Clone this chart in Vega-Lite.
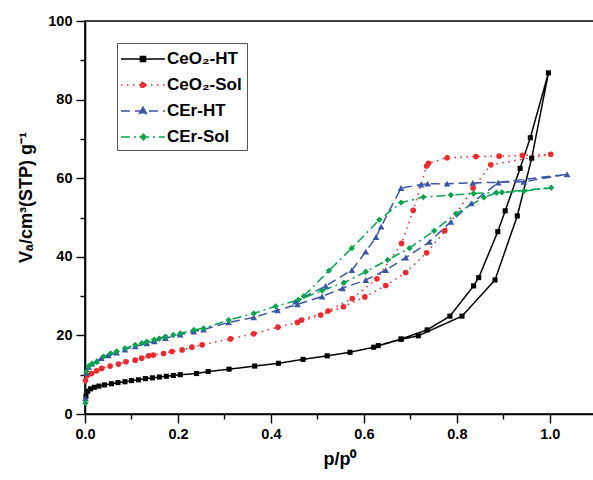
{
  "$schema": "https://vega.github.io/schema/vega-lite/v6.json",
  "width": 509,
  "height": 393,
  "autosize": "none",
  "padding": {"left": 85, "top": 21, "right": 0, "bottom": 66},
  "background": "white",
  "config": {
    "view": {"stroke": "black", "strokeWidth": 1.6},
    "axis": {
      "domainColor": "black", "domainWidth": 1.6, "tickColor": "black", "tickWidth": 1.4,
      "labelFont": "Liberation Sans", "labelFontWeight": "bold", "labelFontSize": 14.5, "labelColor": "black",
      "titleFont": "Liberation Sans", "titleFontWeight": "bold", "titleFontSize": 18, "titleColor": "black",
      "grid": false, "labelFlush": false
    },
    "legend": {"title": null, "orient": "none", "legendX": 32, "legendY": 22, "symbolSize": 400, "symbolStrokeWidth": 1.5, "symbolOpacity": 1,
      "symbolOffset": 10,
      "labelFont": "Liberation Sans", "labelFontWeight": "bold", "labelFontSize": 17, "labelColor": "black",
      "labelOffset": 13, "rowPadding": 7, "padding": 5, "strokeColor": "#555", "fillColor": "white"}
  },
  "data": {"values": [
    {"s":"CeO₂-HT","i":1,"p":0.002,"v":4.5},{"s":"CeO₂-HT","i":2,"p":0.006,"v":5.8},{"s":"CeO₂-HT","i":3,"p":0.012,"v":6.4},{"s":"CeO₂-HT","i":4,"p":0.02,"v":6.8},{"s":"CeO₂-HT","i":5,"p":0.03,"v":7.1},{"s":"CeO₂-HT","i":6,"p":0.042,"v":7.4},{"s":"CeO₂-HT","i":7,"p":0.057,"v":7.7},{"s":"CeO₂-HT","i":8,"p":0.071,"v":8.0},{"s":"CeO₂-HT","i":9,"p":0.086,"v":8.2},{"s":"CeO₂-HT","i":10,"p":0.1,"v":8.5},{"s":"CeO₂-HT","i":11,"p":0.115,"v":8.7},{"s":"CeO₂-HT","i":12,"p":0.13,"v":9.0},{"s":"CeO₂-HT","i":13,"p":0.145,"v":9.2},{"s":"CeO₂-HT","i":14,"p":0.16,"v":9.4},{"s":"CeO₂-HT","i":15,"p":0.175,"v":9.6},{"s":"CeO₂-HT","i":16,"p":0.19,"v":9.8},{"s":"CeO₂-HT","i":17,"p":0.205,"v":10.0},{"s":"CeO₂-HT","i":18,"p":0.24,"v":10.3},{"s":"CeO₂-HT","i":19,"p":0.265,"v":10.8},{"s":"CeO₂-HT","i":20,"p":0.31,"v":11.4},{"s":"CeO₂-HT","i":21,"p":0.365,"v":12.2},{"s":"CeO₂-HT","i":22,"p":0.416,"v":12.9},{"s":"CeO₂-HT","i":23,"p":0.469,"v":13.9},{"s":"CeO₂-HT","i":24,"p":0.521,"v":14.8},{"s":"CeO₂-HT","i":25,"p":0.57,"v":15.7},{"s":"CeO₂-HT","i":26,"p":0.621,"v":17.0},{"s":"CeO₂-HT","i":27,"p":0.68,"v":19.0},{"s":"CeO₂-HT","i":28,"p":0.717,"v":19.9},{"s":"CeO₂-HT","i":29,"p":0.811,"v":24.9},{"s":"CeO₂-HT","i":30,"p":0.882,"v":34.1},{"s":"CeO₂-HT","i":31,"p":0.93,"v":50.4},{"s":"CeO₂-HT","i":32,"p":0.961,"v":65.1},{"s":"CeO₂-HT","i":33,"p":0.997,"v":86.8},{"s":"CeO₂-HT","i":34,"p":0.958,"v":70.3},{"s":"CeO₂-HT","i":35,"p":0.936,"v":62.5},{"s":"CeO₂-HT","i":36,"p":0.904,"v":51.7},{"s":"CeO₂-HT","i":37,"p":0.888,"v":46.4},{"s":"CeO₂-HT","i":38,"p":0.847,"v":34.7},{"s":"CeO₂-HT","i":39,"p":0.836,"v":32.6},{"s":"CeO₂-HT","i":40,"p":0.785,"v":24.9},{"s":"CeO₂-HT","i":41,"p":0.736,"v":21.4},{"s":"CeO₂-HT","i":42,"p":0.68,"v":19.1},{"s":"CeO₂-HT","i":43,"p":0.631,"v":17.4},
    {"s":"CeO₂-Sol","i":1,"p":0.001,"v":8.5},{"s":"CeO₂-Sol","i":2,"p":0.005,"v":9.8},{"s":"CeO₂-Sol","i":3,"p":0.014,"v":10.3},{"s":"CeO₂-Sol","i":4,"p":0.025,"v":11.0},{"s":"CeO₂-Sol","i":5,"p":0.036,"v":11.6},{"s":"CeO₂-Sol","i":6,"p":0.054,"v":12.2},{"s":"CeO₂-Sol","i":7,"p":0.072,"v":12.7},{"s":"CeO₂-Sol","i":8,"p":0.088,"v":13.3},{"s":"CeO₂-Sol","i":9,"p":0.108,"v":13.7},{"s":"CeO₂-Sol","i":10,"p":0.122,"v":14.2},{"s":"CeO₂-Sol","i":11,"p":0.137,"v":14.8},{"s":"CeO₂-Sol","i":12,"p":0.147,"v":15.0},{"s":"CeO₂-Sol","i":13,"p":0.169,"v":15.4},{"s":"CeO₂-Sol","i":14,"p":0.187,"v":15.9},{"s":"CeO₂-Sol","i":15,"p":0.209,"v":16.3},{"s":"CeO₂-Sol","i":16,"p":0.23,"v":17.0},{"s":"CeO₂-Sol","i":17,"p":0.252,"v":17.6},{"s":"CeO₂-Sol","i":18,"p":0.313,"v":19.1},{"s":"CeO₂-Sol","i":19,"p":0.363,"v":20.4},{"s":"CeO₂-Sol","i":20,"p":0.415,"v":22.1},{"s":"CeO₂-Sol","i":21,"p":0.457,"v":23.3},{"s":"CeO₂-Sol","i":22,"p":0.507,"v":25.2},{"s":"CeO₂-Sol","i":23,"p":0.556,"v":27.3},{"s":"CeO₂-Sol","i":24,"p":0.602,"v":29.8},{"s":"CeO₂-Sol","i":25,"p":0.647,"v":32.7},{"s":"CeO₂-Sol","i":26,"p":0.69,"v":36.0},{"s":"CeO₂-Sol","i":27,"p":0.735,"v":41.0},{"s":"CeO₂-Sol","i":28,"p":0.774,"v":46.6},{"s":"CeO₂-Sol","i":29,"p":0.835,"v":57.5},{"s":"CeO₂-Sol","i":30,"p":0.873,"v":63.4},{"s":"CeO₂-Sol","i":31,"p":1.002,"v":66.1},{"s":"CeO₂-Sol","i":32,"p":0.941,"v":65.8},{"s":"CeO₂-Sol","i":33,"p":0.891,"v":65.6},{"s":"CeO₂-Sol","i":34,"p":0.841,"v":65.5},{"s":"CeO₂-Sol","i":35,"p":0.779,"v":65.2},{"s":"CeO₂-Sol","i":36,"p":0.739,"v":63.8},{"s":"CeO₂-Sol","i":37,"p":0.735,"v":63.1},{"s":"CeO₂-Sol","i":38,"p":0.706,"v":51.8},{"s":"CeO₂-Sol","i":39,"p":0.681,"v":43.4},{"s":"CeO₂-Sol","i":40,"p":0.628,"v":34.4},{"s":"CeO₂-Sol","i":41,"p":0.575,"v":29.4},{"s":"CeO₂-Sol","i":42,"p":0.523,"v":26.2},{"s":"CeO₂-Sol","i":43,"p":0.466,"v":23.9},
    {"s":"CEr-HT","i":1,"p":0.001,"v":4.0},{"s":"CEr-HT","i":2,"p":0.003,"v":10.5},{"s":"CEr-HT","i":3,"p":0.008,"v":12.0},{"s":"CEr-HT","i":4,"p":0.015,"v":12.8},{"s":"CEr-HT","i":5,"p":0.025,"v":13.5},{"s":"CEr-HT","i":6,"p":0.035,"v":14.2},{"s":"CEr-HT","i":7,"p":0.05,"v":14.9},{"s":"CEr-HT","i":8,"p":0.068,"v":15.6},{"s":"CEr-HT","i":9,"p":0.086,"v":16.4},{"s":"CEr-HT","i":10,"p":0.108,"v":17.2},{"s":"CEr-HT","i":11,"p":0.133,"v":18.0},{"s":"CEr-HT","i":12,"p":0.149,"v":18.5},{"s":"CEr-HT","i":13,"p":0.173,"v":19.3},{"s":"CEr-HT","i":14,"p":0.205,"v":20.2},{"s":"CEr-HT","i":15,"p":0.234,"v":21.0},{"s":"CEr-HT","i":16,"p":0.255,"v":21.5},{"s":"CEr-HT","i":17,"p":0.309,"v":23.3},{"s":"CEr-HT","i":18,"p":0.363,"v":24.6},{"s":"CEr-HT","i":19,"p":0.414,"v":26.4},{"s":"CEr-HT","i":20,"p":0.457,"v":27.9},{"s":"CEr-HT","i":21,"p":0.51,"v":29.9},{"s":"CEr-HT","i":22,"p":0.554,"v":32.0},{"s":"CEr-HT","i":23,"p":0.604,"v":34.1},{"s":"CEr-HT","i":24,"p":0.647,"v":36.6},{"s":"CEr-HT","i":25,"p":0.69,"v":39.8},{"s":"CEr-HT","i":26,"p":0.741,"v":43.8},{"s":"CEr-HT","i":27,"p":0.787,"v":48.9},{"s":"CEr-HT","i":28,"p":0.831,"v":53.6},{"s":"CEr-HT","i":29,"p":0.889,"v":58.9},{"s":"CEr-HT","i":30,"p":1.037,"v":61.0},{"s":"CEr-HT","i":31,"p":0.944,"v":59.1},{"s":"CEr-HT","i":32,"p":0.834,"v":58.8},{"s":"CEr-HT","i":33,"p":0.779,"v":58.6},{"s":"CEr-HT","i":34,"p":0.737,"v":58.6},{"s":"CEr-HT","i":35,"p":0.723,"v":58.4},{"s":"CEr-HT","i":36,"p":0.68,"v":57.5},{"s":"CEr-HT","i":37,"p":0.637,"v":47.7},{"s":"CEr-HT","i":38,"p":0.626,"v":45.0},{"s":"CEr-HT","i":39,"p":0.604,"v":41.3},{"s":"CEr-HT","i":40,"p":0.574,"v":36.6},{"s":"CEr-HT","i":41,"p":0.518,"v":32.6},{"s":"CEr-HT","i":42,"p":0.453,"v":28.6},
    {"s":"CEr-Sol","i":1,"p":0.001,"v":2.8},{"s":"CEr-Sol","i":2,"p":0.003,"v":10.8},{"s":"CEr-Sol","i":3,"p":0.008,"v":12.2},{"s":"CEr-Sol","i":4,"p":0.015,"v":12.8},{"s":"CEr-Sol","i":5,"p":0.025,"v":13.2},{"s":"CEr-Sol","i":6,"p":0.04,"v":14.6},{"s":"CEr-Sol","i":7,"p":0.055,"v":15.4},{"s":"CEr-Sol","i":8,"p":0.068,"v":15.9},{"s":"CEr-Sol","i":9,"p":0.086,"v":16.7},{"s":"CEr-Sol","i":10,"p":0.108,"v":17.6},{"s":"CEr-Sol","i":11,"p":0.122,"v":18.0},{"s":"CEr-Sol","i":12,"p":0.133,"v":18.4},{"s":"CEr-Sol","i":13,"p":0.149,"v":18.9},{"s":"CEr-Sol","i":14,"p":0.16,"v":19.2},{"s":"CEr-Sol","i":15,"p":0.173,"v":19.7},{"s":"CEr-Sol","i":16,"p":0.19,"v":20.1},{"s":"CEr-Sol","i":17,"p":0.205,"v":20.5},{"s":"CEr-Sol","i":18,"p":0.234,"v":21.4},{"s":"CEr-Sol","i":19,"p":0.255,"v":21.8},{"s":"CEr-Sol","i":20,"p":0.309,"v":23.9},{"s":"CEr-Sol","i":21,"p":0.363,"v":25.6},{"s":"CEr-Sol","i":22,"p":0.41,"v":27.4},{"s":"CEr-Sol","i":23,"p":0.459,"v":29.0},{"s":"CEr-Sol","i":24,"p":0.51,"v":31.4},{"s":"CEr-Sol","i":25,"p":0.557,"v":33.4},{"s":"CEr-Sol","i":26,"p":0.604,"v":36.2},{"s":"CEr-Sol","i":27,"p":0.651,"v":39.2},{"s":"CEr-Sol","i":28,"p":0.698,"v":42.2},{"s":"CEr-Sol","i":29,"p":0.751,"v":46.6},{"s":"CEr-Sol","i":30,"p":0.798,"v":51.0},{"s":"CEr-Sol","i":31,"p":0.858,"v":55.1},{"s":"CEr-Sol","i":32,"p":0.885,"v":56.3},{"s":"CEr-Sol","i":33,"p":0.944,"v":56.7},{"s":"CEr-Sol","i":34,"p":1.003,"v":57.6},{"s":"CEr-Sol","i":35,"p":0.897,"v":56.4},{"s":"CEr-Sol","i":36,"p":0.836,"v":56.1},{"s":"CEr-Sol","i":37,"p":0.787,"v":55.7},{"s":"CEr-Sol","i":38,"p":0.728,"v":55.2},{"s":"CEr-Sol","i":39,"p":0.68,"v":53.8},{"s":"CEr-Sol","i":40,"p":0.633,"v":49.4},{"s":"CEr-Sol","i":41,"p":0.574,"v":42.2},{"s":"CEr-Sol","i":42,"p":0.525,"v":36.5},{"s":"CEr-Sol","i":43,"p":0.471,"v":30.0}
  ]},
  "encoding": {
    "x": {"field": "p", "type": "quantitative",
      "scale": {"domain": [0, 1.095], "nice": false, "zero": false},
      "axis": {"title": "p/p⁰", "values": [0,0.1,0.2,0.3,0.4,0.5,0.6,0.7,0.8,0.9,1.0],
        "labelExpr": "round(datum.value*10) % 2 == 0 ? format(datum.value, '.1f') : ''",
        "tickSize": {"condition": {"test": "round(datum.value*10) % 2 == 0", "value": 9}, "value": 5},
        "labelPadding": 4, "titlePadding": 10}},
    "y": {"field": "v", "type": "quantitative",
      "scale": {"domain": [0, 100], "nice": false},
      "axis": {"title": "Vₐ/cm³(STP) g⁻¹", "titleFontSize": 18, "titleY": 176, "values": [0,10,20,30,40,50,60,70,80,90,100],
        "labelExpr": "datum.value % 20 == 0 ? datum.label : ''",
        "tickSize": {"condition": {"test": "datum.value % 20 == 0", "value": 9}, "value": 5},
        "labelPadding": 4, "titlePadding": 12}}
  },
  "layer": [
    {
      "mark": {"type": "line", "strokeWidth": 1.5, "interpolate": "linear"},
      "encoding": {
        "order": {"field": "i", "type": "quantitative"},
        "color": {"field": "s", "type": "nominal",
          "scale": {"domain": ["CeO₂-HT","CeO₂-Sol","CEr-HT","CEr-Sol"], "range": ["#000000","#ee2a2f","#3a55a6","#07a34f"]}},
        "strokeDash": {"field": "s", "type": "nominal",
          "scale": {"domain": ["CeO₂-HT","CeO₂-Sol","CEr-HT","CEr-Sol"], "range": [[1,0],[1.5,4.5],[9,5],[9,4,2,4]]}}
      }
    },
    {"transform": [{"filter": "datum.s == 'CeO₂-HT'"}], "mark": {"type": "point", "filled": true, "opacity": 1, "shape": "square", "size": 26, "color": "#000000"}},
    {"transform": [{"filter": "datum.s == 'CeO₂-Sol'"}], "mark": {"type": "point", "filled": true, "opacity": 1, "shape": "circle", "size": 32, "color": "#ee2a2f"}},
    {"transform": [{"filter": "datum.s == 'CEr-HT'"}], "mark": {"type": "point", "filled": true, "opacity": 1, "shape": "triangle-up", "size": 45, "color": "#3a55a6"}},
    {"transform": [{"filter": "datum.s == 'CEr-Sol'"}], "mark": {"type": "point", "filled": true, "opacity": 1, "shape": "diamond", "size": 40, "color": "#07a34f"}},
    {
      "mark": {"type": "point", "filled": true, "opacity": 0},
      "encoding": {
        "color": {"field": "s", "type": "nominal"},
        "stroke": {"field": "s", "type": "nominal",
          "scale": {"domain": ["CeO₂-HT","CeO₂-Sol","CEr-HT","CEr-Sol"], "range": ["#000000","#ee2a2f","#3a55a6","#07a34f"]}},
        "shape": {"field": "s", "type": "nominal",
          "scale": {"domain": ["CeO₂-HT","CeO₂-Sol","CEr-HT","CEr-Sol"], "range": [
            "M-2.2,0H2.2M-0.26,-0.26H0.26V0.26H-0.26Z",
            "M-2.2,0H2.2M0.3,0A0.3,0.3,0,1,1,-0.3,0A0.3,0.3,0,1,1,0.3,0Z",
            "M-2.2,0H2.2M0,-0.37L0.35,0.26H-0.35Z",
            "M-2.2,0H2.2M0,-0.35L0.29,0L0,0.35L-0.29,0Z"]}},
        "strokeDash": {"field": "s", "type": "nominal"}
      }
    }
  ]
}
